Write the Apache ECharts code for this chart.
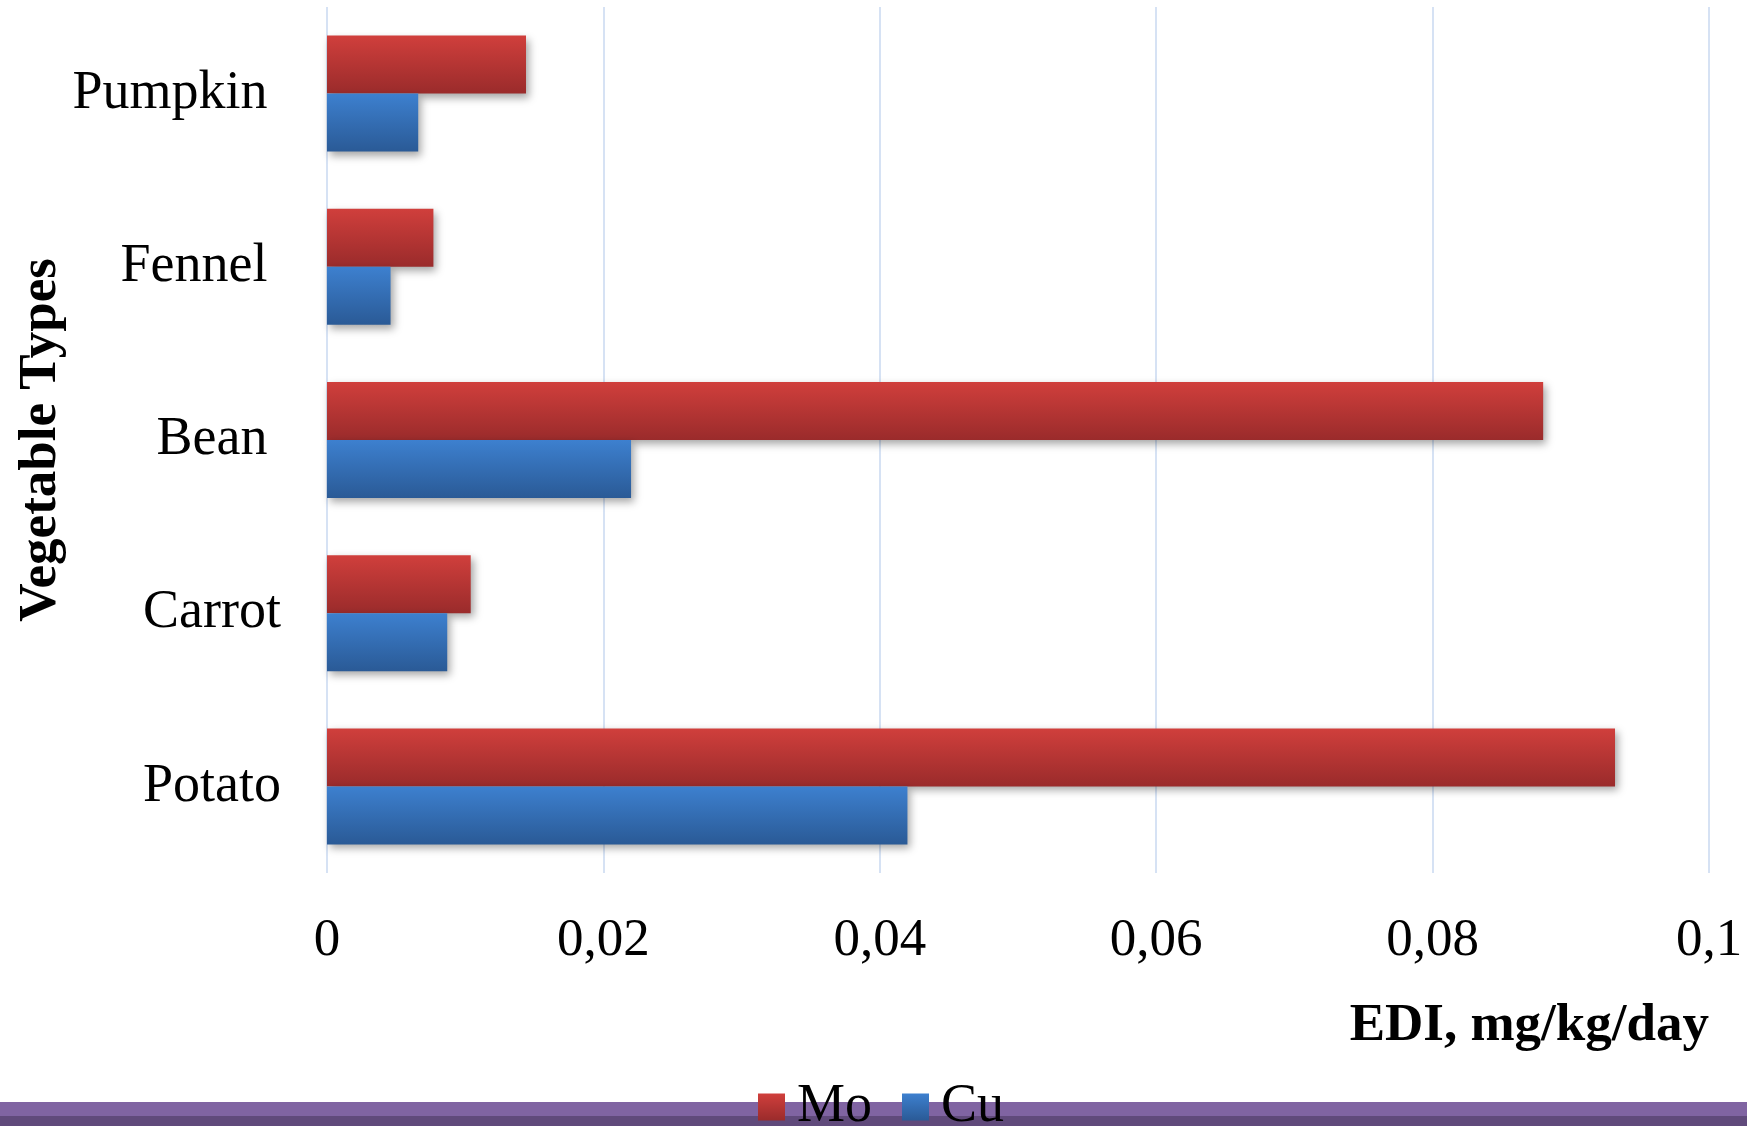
<!DOCTYPE html>
<html>
<head>
<meta charset="utf-8">
<title>EDI by vegetable type</title>
<script src="https://cdn.jsdelivr.net/npm/echarts@6/dist/echarts.min.js"></script>
<style>
  html, body { margin: 0; padding: 0; background: #ffffff; }
  #chart { width: 1747px; height: 1126px; }
</style>
</head>
<body>
<div id="chart"></div>
<script>
// Vegetable categories, listed bottom to top on the y axis
const categories = ['Potato', 'Carrot', 'Bean ', 'Fennel ', 'Pumpkin '];
// Estimated daily intake, mg/kg/day
const moValues = [0.0932, 0.0104, 0.088, 0.0077, 0.0144];
const cuValues = [0.042, 0.0087, 0.022, 0.0046, 0.0066];
// Value-axis tick labels (decimal comma)
const xTickLabels = ['0', '0,02', '0,04', '0,06', '0,08', '0,1'];

const FONT = '"Liberation Serif", "Times New Roman", serif';

const redGrad = new echarts.graphic.LinearGradient(0, 0, 0, 1, [
  { offset: 0, color: '#D03F3C' },
  { offset: 1, color: '#9A2B2B' }
]);
const blueGrad = new echarts.graphic.LinearGradient(0, 0, 0, 1, [
  { offset: 0, color: '#3D80CF' },
  { offset: 1, color: '#2A5A96' }
]);
const barShadow = {
  shadowBlur: 8,
  shadowOffsetX: 3,
  shadowOffsetY: 4,
  shadowColor: 'rgba(0,0,0,0.35)'
};

const chart = echarts.init(document.getElementById('chart'), null, { renderer: 'canvas' });

chart.setOption({
  animation: false,
  backgroundColor: '#ffffff',
  textStyle: { fontFamily: FONT },
  grid: {
    left: 327, right: 38, top: 7, bottom: 253,
    containLabel: false,
    outerBoundsMode: 'none'
  },
  legend: {
    data: ['Mo', 'Cu'],
    left: 758,
    top: 1080,
    padding: 0,
    itemWidth: 27,
    itemHeight: 27,
    itemGap: 30,
    icon: 'rect',
    textStyle: {
      fontFamily: FONT,
      fontSize: 54,
      color: '#000',
      padding: [0, 0, 0, 7]
    }
  },
  xAxis: {
    type: 'value',
    min: 0,
    max: 0.1,
    interval: 0.02,
    axisLine: { show: false },
    axisTick: { show: false },
    splitLine: { show: true, lineStyle: { color: '#D6E2F4', width: 2 } },
    axisLabel: {
      margin: 42,
      fontFamily: FONT,
      fontSize: 53,
      color: '#000',
      formatter: v => xTickLabels[Math.round(v / 0.02)]
    },
    name: 'EDI, mg/kg/day',
    nameLocation: 'end',
    nameGap: 0,
    nameMoveOverlap: false,
    nameTextStyle: {
      fontFamily: FONT,
      fontSize: 53,
      fontWeight: 'bold',
      color: '#000',
      align: 'right',
      verticalAlign: 'top',
      padding: [127, 0, 0, 0]
    }
  },
  yAxis: {
    type: 'category',
    data: categories,
    axisLine: { show: false },
    axisTick: { show: false },
    axisLabel: {
      margin: 46,
      fontFamily: FONT,
      fontSize: 54,
      color: '#000'
    },
    name: 'Vegetable Types',
    nameLocation: 'middle',
    nameRotate: 90,
    nameGap: 259,
    nameMoveOverlap: false,
    nameTextStyle: {
      fontFamily: FONT,
      fontSize: 53,
      fontWeight: 'bold',
      color: '#000'
    }
  },
  series: [
    {
      name: 'Mo',
      type: 'bar',
      data: moValues,
      barWidth: 58,
      barGap: '0%',
      z: 2,
      itemStyle: Object.assign({ color: redGrad }, barShadow)
    },
    {
      name: 'Cu',
      type: 'bar',
      data: cuValues,
      barWidth: 58,
      barGap: '0%',
      z: 3,
      itemStyle: Object.assign({ color: blueGrad }, barShadow)
    }
  ],
  graphic: [
    {
      type: 'rect',
      z: -1,
      shape: { x: 0, y: 1102, width: 1747, height: 14 },
      style: { fill: '#8064A2' }
    },
    {
      type: 'rect',
      z: -1,
      shape: { x: 0, y: 1116, width: 1747, height: 10 },
      style: { fill: '#604A7B' }
    }
  ]
});
</script>
</body>
</html>
